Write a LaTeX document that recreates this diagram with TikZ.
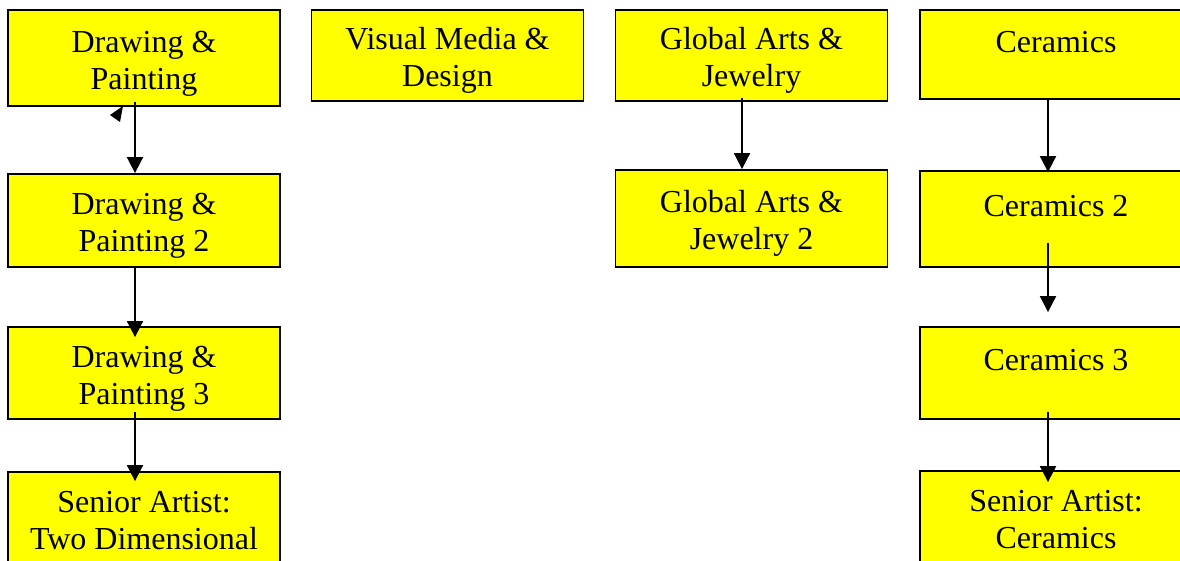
\documentclass[tikz,border=0pt]{standalone}
\usepackage{fontspec}
\setmainfont{Liberation Serif}
\usetikzlibrary{arrows.meta}
\definecolor{courseyellow}{RGB}{255,255,0}

\begin{document}
\begin{tikzpicture}[x=1pt, y=-1pt,
    course/.style={rectangle, draw, line width=1.8pt, fill=courseyellow, text width=262pt, inner xsep=5pt, inner ysep=0pt, align=flush center, font=\fontsize{32}{37}\selectfont, execute at begin node=\rule{0pt}{32pt}},
    flow/.style={-{Triangle[length=16pt, width=16pt]}, line width=1.8pt}
]
    \useasboundingbox (0,0) rectangle (1180,560);

    % Drawing & Painting
    \node[course, minimum height=96pt] (dp1) at (144, 58) {Drawing \&\\Painting};
    \node[course, minimum height=93pt] (dp2) at (144, 220.5) {Drawing \&\\Painting 2};
    \node[course, minimum height=92pt] (dp3) at (144, 373) {Drawing \&\\Painting 3};
    \node[course, minimum height=100pt] (sa2d) at (144, 522) {Senior Artist:\\Two Dimensional\rule[-14pt]{0pt}{14pt}};

    % Visual Media
    \node[course, minimum height=91pt] (vm) at (447.5, 55.5) {Visual Media \&\\Design};

    % Global Arts
    \node[course, minimum height=91pt] (ga1) at (751.5, 55.5) {Global Arts \&\\Jewelry};
    \node[course, minimum height=97pt] (ga2) at (751.5, 218.5) {Global Arts \&\\Jewelry 2};

    % Ceramics
    \node[course, minimum height=89pt] (c1) at (1056, 54.5) {Ceramics\\\mbox{}};
    \node[course, minimum height=96pt] (c2) at (1056, 219) {Ceramics 2\\\mbox{}};
    \node[course, minimum height=92pt] (c3) at (1056, 373) {Ceramics 3\\\mbox{}};
    \node[course, minimum height=100pt] (sac) at (1056, 521) {Senior Artist:\\Ceramics\rule[-14pt]{0pt}{14pt}};

    \draw[flow] ([shift={(-9,-5)}]dp1.south) -- ([shift={(-9,0)}]dp2.north);
    \draw[flow] ([shift={(-9,0)}]dp2.south) -- ([shift={(-9,11)}]dp3.north);
    \draw[flow] ([shift={(-9,-8)}]dp3.south) -- ([shift={(-9,10)}]sa2d.north);
    \fill (110,115) -- (123,106) -- (120,122) -- cycle;

    \draw[flow] ([shift={(-9.5,-4)}]ga1.south) -- ([shift={(-9.5,0)}]ga2.north);

    \draw[flow] ([shift={(-8,0)}]c1.south) -- ([shift={(-8,2)}]c2.north);
    \draw[flow] ([shift={(-8,-25)}]c2.south) -- ([shift={(-8,-14)}]c3.north);
    \draw[flow] ([shift={(-8,-8)}]c3.south) -- ([shift={(-8,12)}]sac.north);
\end{tikzpicture}
\end{document}
